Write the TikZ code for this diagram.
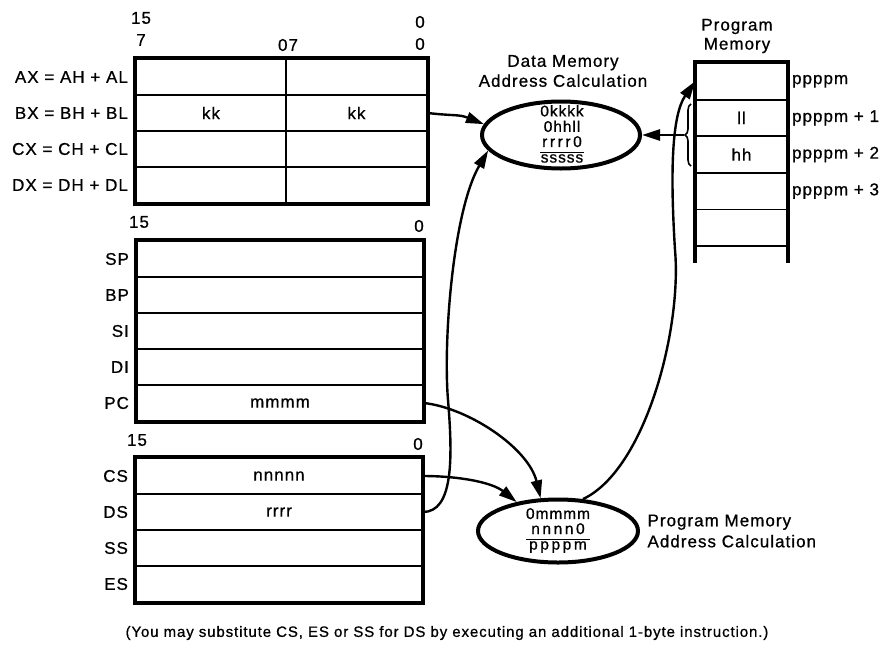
\documentclass[tikz,border=0pt]{standalone}
\usepackage{fontspec}
\setmainfont{Liberation Sans}[LetterSpace=6, FakeBold=0.8]
\usetikzlibrary{shapes.geometric, arrows.meta, positioning, fit, calc, decorations.pathreplacing}

\begin{document}
\begin{tikzpicture}[
    x=1pt, y=-1pt,
    font=\fontsize{17}{20}\selectfont,
    reg/.style={rectangle, draw, line width=1.8pt, minimum width=286pt, minimum height=36pt, inner sep=0pt},
    halfreg/.style={reg, minimum width=145pt},
    mem/.style={rectangle, draw, line width=1.8pt, minimum width=91pt, minimum height=36.6pt, inner sep=0pt},
    frame/.style={rectangle, draw, line width=4pt, inner sep=0pt},
    addr/.style={ellipse, draw, line width=4pt, inner sep=0pt},
    addrtext/.style={inner sep=0pt, font=\fontsize{15.5}{14.2}\selectfont},
    lab/.style={inner sep=1pt},
    bit/.style={inner sep=0pt},
    brace/.style={decorate, decoration={brace, amplitude=6pt}, line width=1.6pt},
    arrow/.style={-{Triangle[length=18pt, width=11pt]}, line width=2.4pt}
]
\useasboundingbox (0,0) rectangle (893,664);

% General Registers
\node[halfreg, minimum width=150pt] (ah) at (211,77) {};
\node[halfreg, minimum width=141pt] (al) at (356.5,77) {};
\node[halfreg, minimum width=150pt] (bh) at (211,113) {kk};
\node[halfreg, minimum width=141pt] (bl) at (356.5,113) {kk};
\node[halfreg, minimum width=150pt] (ch) at (211,149) {};
\node[halfreg, minimum width=141pt] (cl) at (356.5,149) {};
\node[halfreg, minimum width=150pt] (dh) at (211,185) {};
\node[halfreg, minimum width=141pt] (dl) at (356.5,185) {};
\node[frame, fit=(ah)(dl)] (genreg) {};

\node[lab, left=6pt of ah] (axlab) {AX = AH + AL};
\node[lab, left=6pt of bh] (bxlab) {BX = BH + BL};
\node[lab, left=6pt of ch] (cxlab) {CX = CH + CL};
\node[lab, left=6pt of dh] (dxlab) {DX = DH + DL};

\node[bit] (g15) at (141,18) {15};
\node[bit] (g7) at (141,40) {7};
\node[bit] (g07) at (288,45) {07};
\node[bit] (g0a) at (420,22) {0};
\node[bit] (g0b) at (420,44) {0};

% Pointer and Index Registers
\node[reg] (sp) at (280,259) {};
\node[reg] (bp) at (280,295) {};
\node[reg] (si) at (280,331) {};
\node[reg] (di) at (280,367) {};
\node[reg] (pc) at (280,403) {mmmm};
\node[frame, fit=(sp)(pc)] (ptrreg) {};

\node[lab, left=6pt of sp] (splab) {SP};
\node[lab, left=6pt of bp] (bplab) {BP};
\node[lab, left=6pt of si] (silab) {SI};
\node[lab, left=6pt of di] (dilab) {DI};
\node[lab, left=6pt of pc] (pclab) {PC};

\node[bit] (p15) at (139,222) {15};
\node[bit] (p0) at (419,226) {0};

% Segment Registers
\node[reg] (cs) at (279,476) {nnnnn};
\node[reg] (ds) at (279,512) {rrrr};
\node[reg] (ss) at (279,548) {};
\node[reg] (es) at (279,584) {};
\node[frame, fit=(cs)(es)] (segreg) {};

\node[lab, left=6pt of cs] (cslab) {CS};
\node[lab, left=6pt of ds] (dslab) {DS};
\node[lab, left=6pt of ss] (sslab) {SS};
\node[lab, left=6pt of es] (eslab) {ES};

\node[bit] (s15) at (137,440) {15};
\node[bit] (s0) at (418,444) {0};

% Address Calculations
\node[addr, minimum width=158pt, minimum height=67pt] (dmac) at (561,135) {};
\node[addrtext] (dmtext) at (562,136) {\begin{tabular}{@{}c@{}}0kkkk\\0hhll\\r\,r\,r\,r\,0\\[1pt]\hline sssss\end{tabular}};
\node[align=center, font=\fontsize{17}{20}\selectfont] (dmlab) at (563,71) {Data Memory\\Address Calculation};

\node[addr, minimum width=160pt, minimum height=63pt] (pmac) at (558,531) {};
\node[addrtext] (pmtext) at (558,531) {\begin{tabular}{@{}c@{}}0mmmm\\n\,n\,n\,n\,0\\[1pt]\hline p\,p\,p\,p\,m\end{tabular}};
\node[align=left, anchor=west, font=\fontsize{17}{21}\selectfont] (pmlab) at (644,531) {Program Memory\\Address Calculation};

% Program Memory
\node[mem] (pm1) at (741.5,81.3) {};
\node[mem] (pm2) at (741.5,117.9) {ll};
\node[mem] (pm3) at (741.5,154.5) {hh};
\node[mem] (pm4) at (741.5,191.1) {};
\node[mem] (pm5) at (741.5,227.7) {};
\draw[line width=4pt] ($(pm5.south west)+(0,16)$) -- (pm1.north west) -- (pm1.north east) -- ($(pm5.south east)+(0,16)$);
\node[align=center, font=\fontsize{17}{19}\selectfont] (pmtitle) at (737,36) {Program\\Memory};

\node[lab, right=3pt of pm1] (addr0) {ppppm};
\node[lab, right=3pt of pm2] (addr1) {ppppm + 1};
\node[lab, right=3pt of pm3] (addr2) {ppppm + 2};
\node[lab, right=3pt of pm4] (addr3) {ppppm + 3};

\draw[brace] (691,166) -- (691,104);
\coordinate (bt) at (684,135);

% Connections
\draw[arrow] (bl.east) .. controls +(25,3) and +(-25,-10) .. (dmac.172);
\draw[arrow] (bt) -- (dmac.east);
\draw[arrow] (ds.east) .. controls +(30,0) and +(5,60) .. (448,400) .. controls +(-5,-60) and +(-35,60) .. (dmac.192);
\draw[arrow] (pc.east) .. controls +(45,5) and +(-12,-50) .. (pmac.118);
\draw[arrow] (cs.east) .. controls +(35,0) and +(-25,-20) .. (pmac.145);
\draw[arrow] (pmac.52) .. controls (645,470) and (682,330) .. (675,250) .. controls (670,170) and (672,115) .. (pm1.west);

\node[font=\fontsize{15}{17}\selectfont] (note) at (447,633) {(You may substitute CS, ES or SS for DS by executing an additional 1-byte instruction.)};

\end{tikzpicture}
\end{document}
